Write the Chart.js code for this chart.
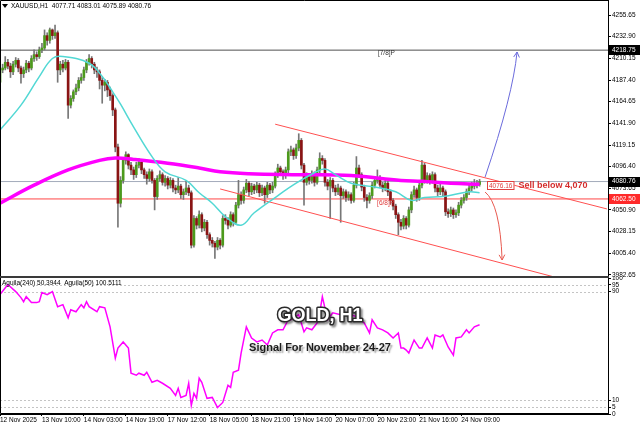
<!DOCTYPE html>
<html>
<head>
<meta charset="UTF-8">
<title>XAUUSD H1</title>
<script src="https://cdn.jsdelivr.net/npm/chart.js"></script>
<style>
  body { margin: 0; background: #fff; }
  #wrap { position: relative; width: 640px; height: 426px; overflow: hidden; background: #fff; }
  #priceChart { position: absolute; left: 0; top: 0; }
  #oscChart { position: absolute; left: 0; top: 277px; }
</style>
</head>
<body>
<div id="wrap">
  <canvas id="priceChart" width="640" height="290"></canvas>
  <canvas id="oscChart" width="640" height="149"></canvas>
</div>
<script>
// H1 candles, bar 0 = 12 Nov 17:00 ... bar 183 = 24 Nov 16:00
const opens = [
  4185,4198,4200,4206,4202,4196,4204,4208,4200,4194,
  4198,4205,4200,4210,4214,4212,4219,4221,4234,4229,
  4240,4234,4237,4198,4204,4200,4206,4161,4168,4175,
  4179,4187,4190,4198,4206,4210,4204,4198,4196,4187,
  4182,4185,4177,4171,4156,4117,4058,4082,4103,4109,
  4098,4093,4088,4098,4101,4093,4088,4084,4091,4082,
  4065,4084,4088,4080,4084,4077,4082,4074,4072,4076,
  4067,4070,4074,4069,4014,4042,4035,4046,4032,4038,
  4025,4019,4016,4012,4019,4014,4042,4040,4035,4046,
  4038,4056,4067,4061,4072,4079,4070,4076,4072,4077,
  4069,4074,4067,4077,4072,4076,4088,4095,4091,4087,
  4093,4112,4114,4108,4116,4124,4098,4080,4087,4082,
  4089,4080,4093,4105,4103,4080,4076,4082,4074,4070,
  4074,4066,4070,4064,4067,4061,4077,4095,4088,4075,
  4064,4061,4066,4077,4082,4085,4077,4074,4079,4070,
  4061,4055,4046,4038,4034,4042,4035,4051,4067,4072,
  4064,4077,4098,4082,4087,4082,4088,4074,4070,4074,
  4070,4049,4047,4051,4046,4048,4056,4061,4064,4070,
  4074,4076,4079,4077.71
];
const highs = [
  4201,4204,4212,4209,4205,4207,4211,4210,4202,4201,
  4208,4207,4213,4219,4217,4222,4226,4240,4237,4242,
  4241,4245,4239,4207,4208,4209,4208,4171,4177,4183,
  4190,4194,4201,4209,4214,4212,4206,4201,4198,4190,
  4188,4187,4180,4173,4158,4120,4086,4106,4112,4110,
  4101,4096,4101,4105,4103,4095,4091,4094,4093,4084,
  4087,4092,4090,4087,4086,4085,4084,4077,4085,4078,
  4073,4081,4077,4071,4045,4044,4050,4048,4041,4040,
  4027,4022,4018,4022,4021,4045,4046,4043,4049,4048,
  4059,4082,4070,4075,4083,4081,4079,4078,4080,4079,
  4077,4076,4080,4079,4080,4091,4099,4097,4093,4096,
  4115,4118,4116,4120,4131,4126,4100,4090,4089,4092,
  4091,4096,4111,4108,4105,4083,4085,4084,4077,4078,
  4076,4073,4072,4070,4069,4080,4107,4098,4090,4077,
  4067,4069,4080,4086,4093,4087,4080,4082,4081,4072,
  4063,4057,4048,4041,4045,4044,4054,4070,4076,4074,
  4080,4103,4100,4090,4089,4091,4090,4077,4078,4076,
  4072,4052,4054,4053,4051,4059,4064,4067,4073,4077,
  4080,4083,4082,4083.01
];
const lows = [
  4182,4195,4198,4199,4190,4193,4201,4196,4184,4190,
  4195,4196,4198,4207,4208,4210,4216,4219,4224,4226,
  4230,4231,4185,4193,4196,4198,4147,4158,4165,4172,
  4176,4184,4187,4195,4203,4200,4194,4190,4178,4163,
  4176,4170,4166,4150,4112,4033,4054,4079,4099,4094,
  4088,4083,4085,4095,4089,4084,4078,4081,4079,4051,
  4062,4081,4077,4076,4073,4074,4070,4068,4069,4063,
  4062,4067,4066,4011,4012,4031,4032,4028,4029,4021,
  4014,4012,4000,4009,4010,4012,4036,4031,4033,4034,
  4036,4053,4057,4058,4069,4066,4067,4068,4069,4065,
  4066,4058,4064,4068,4069,4074,4085,4087,4083,4084,
  4090,4108,4104,4105,4113,4094,4056,4077,4078,4079,
  4076,4078,4090,4099,4076,4072,4042,4070,4066,4067,
  4038,4063,4060,4061,4058,4059,4074,4085,4071,4060,
  4053,4058,4063,4074,4079,4074,4070,4071,4066,4057,
  4051,4042,4025,4030,4031,4031,4033,4048,4064,4060,
  4061,4074,4079,4079,4078,4079,4070,4066,4067,4066,
  4045,4043,4044,4042,4043,4045,4053,4058,4061,4067,
  4071,4073,4074,4075.89
];
const closes = [
  4198,4200,4206,4202,4196,4204,4208,4200,4194,4198,
  4205,4200,4210,4214,4212,4219,4221,4234,4229,4240,
  4234,4237,4198,4204,4200,4206,4161,4168,4175,4179,
  4187,4190,4198,4206,4210,4204,4198,4196,4187,4182,
  4185,4177,4171,4156,4117,4058,4082,4103,4109,4098,
  4093,4088,4098,4101,4093,4088,4084,4091,4082,4065,
  4084,4088,4080,4084,4077,4082,4074,4072,4076,4067,
  4070,4074,4069,4014,4042,4035,4046,4032,4038,4025,
  4019,4016,4012,4019,4014,4042,4040,4035,4046,4038,
  4056,4067,4061,4072,4079,4070,4076,4072,4077,4069,
  4074,4067,4077,4072,4076,4088,4095,4091,4087,4093,
  4112,4114,4108,4116,4124,4098,4080,4087,4082,4089,
  4080,4093,4105,4103,4080,4076,4082,4074,4070,4074,
  4066,4070,4064,4067,4061,4077,4095,4088,4075,4064,
  4061,4066,4077,4082,4085,4077,4074,4079,4070,4061,
  4055,4046,4038,4034,4042,4035,4051,4067,4072,4064,
  4077,4098,4082,4087,4082,4088,4074,4070,4074,4070,
  4049,4047,4051,4046,4048,4056,4061,4064,4070,4074,
  4076,4079,4077.71,4080.76
];

// moving averages, read at sample bars
const maFastIdx = [0,8,15,20,24,34,39,43,46,51,58,63,71,76,81,86,92,97,105,113,120,124,128,134,143,151,157,162,169,179,183];
const maFastVal = [4135,4161,4191,4210,4212,4205,4191,4175,4162,4138,4107,4091,4082,4069,4058,4044,4035,4048,4064,4079,4090,4094,4088,4079,4075,4070,4061,4064,4065,4070,4069];
const maSlowIdx = [0,13,26,38,44,51,64,76,84,95,115,134,153,161,172,183];
const maSlowVal = [4058,4077,4093,4103,4105.5,4104,4100,4095,4091,4089,4088,4087,4082,4081,4079,4078];

// Aguila oscillator
const aguIdx = [0,3,6,8,9,10,12,14,15,16,18,20,22,24,26,27,29,31,32,33,34,37,38,40,42,44,45,47,49,50,
  52,53,55,56,58,60,62,65,67,68,69,71,72,73,74,75,76,77,79,81,83,85,87,88,89,91,92,94,96,98,
  100,102,104,106,108,110,111,114,116,117,119,121,122,123,125,127,130,132,134,136,139,141,142,144,146,148,150,152,153,154,
  155,156,158,160,161,163,165,166,168,169,171,173,174,176,178,179,181,183];
const aguVal = [87.8,95.2,90,85.6,82.6,86.3,81.9,81.9,82.6,89.3,87.8,90,78.9,80.4,70.7,76.7,75.2,80.4,78.1,82.6,
  78.9,75.2,78.9,78.1,64.1,41.1,48.5,53.0,48.5,30.0,28.5,30.0,28.5,30.7,23.3,24.8,22.6,18.9,13.7,18.9,
  12.2,13.7,22.6,6.3,15.2,11.5,26.3,23.3,11.5,12.2,4.8,8.5,21.1,19.6,30.7,32.2,44.8,64.1,55.9,53.0,
  54.4,50.7,59.6,61.9,61.9,69.3,69.3,73.0,60.4,63.3,61.9,67.0,74.4,86.3,69.3,74.4,73.0,74.4,73.0,71.5,
  67.0,59.6,69.3,63.3,61.9,59.6,55.9,59.6,48.5,48.5,47.0,44.8,54.4,48.5,48.5,55.9,48.5,58.1,56.7,58.1,
  49.3,43.3,55.9,56.7,61.9,59.6,64.1,65.6];

// axes
const priceTicks = [4255.65,4232.90,4210.15,4187.40,4164.65,4141.90,4119.15,4096.40,4073.65,4050.90,4028.15,4005.40,3982.65];
const oscTicks = [100,95,90,10,5,0];
const oscLevels = [95,90,10,5];
const timeIdx = [0,16,32,48,64,80,96,112,128,144,160,176];
const timeLabels = ['12 Nov 2025','13 Nov 10:00','14 Nov 03:00','14 Nov 19:00','17 Nov 12:00','18 Nov 05:00',
  '18 Nov 21:00','19 Nov 14:00','20 Nov 07:00','20 Nov 23:00','21 Nov 16:00','24 Nov 09:00'];

// drawn objects (bar index, price)
const levels = [4218.75, 4080.76, 4062.50];
const upperChannel = [[105, 4141], [231.6, 4052]];
const lowerChannel = [[84, 4073], [231.6, 3966]];
const blueArrow = [[185.1, 4085.5], [195.7, 4171.6], [197.3, 4216.8]];
const redArrow = [[185.1, 4069.8], [190.8, 4057.2], [191.6, 3998.4]];

const FONT = '"Liberation Sans", Arial, sans-serif';
Chart.defaults.font.family = FONT;
Chart.defaults.font.size = 6.5;
Chart.defaults.color = '#000';

const last = closes.length - 1;
const fmt = v => v.toFixed(2);
const pairs = (xs, ys) => xs.map((x, i) => ({ x: x, y: ys[i] }));
const xRange = { type: 'linear', min: 0, max: 232, offset: false };

const wickData = highs.map((h, i) => ({ x: i, y: [lows[i], h] }));
const bodyData = opens.map((o, i) => ({ x: i, y: [o, closes[i]] }));
const bodyColors = opens.map((o, i) => closes[i] >= o ? '#4c9a1c' : '#8a1414');

const levelColors = ['#505050', '#a3abbb', '#ff4646'];
const levelSets = levels.map((v, k) => ({
  type: 'line', data: [{ x: 0, y: v }, { x: 232, y: v }],
  borderColor: levelColors[k], borderWidth: 1, pointRadius: 0, order: 6
}));

const priceDecor = {
  id: 'priceDecor',
  afterDatasetsDraw(chart) {
    const { ctx, chartArea: a } = chart;
    const xs = chart.scales.x, ys = chart.scales.y;
    const pt = ([i, p]) => [xs.getPixelForValue(i), ys.getPixelForValue(p)];
    ctx.save();
    ctx.beginPath();
    ctx.rect(a.left, a.top, a.right - a.left, a.bottom - a.top);
    ctx.clip();
    [[blueArrow, '#6b6bdc'], [redArrow, '#e85a50']].forEach(([ar, col]) => {
      const [p0, c, p2] = ar.map(pt);
      ctx.strokeStyle = col;
      ctx.lineWidth = 1;
      ctx.beginPath();
      ctx.moveTo(p0[0], p0[1]);
      ctx.quadraticCurveTo(c[0], c[1], p2[0], p2[1]);
      ctx.stroke();
      const ang = Math.atan2(p2[1] - c[1], p2[0] - c[0]);
      ctx.beginPath();
      ctx.moveTo(p2[0] - 6 * Math.cos(ang - 0.5), p2[1] - 6 * Math.sin(ang - 0.5));
      ctx.lineTo(p2[0], p2[1]);
      ctx.lineTo(p2[0] - 6 * Math.cos(ang + 0.5), p2[1] - 6 * Math.sin(ang + 0.5));
      ctx.stroke();
    });
    ctx.textBaseline = 'middle';
    ctx.textAlign = 'left';
    ctx.font = '6.5px ' + FONT;
    let [tx, ty] = pt([144.2, 4215.5]);
    ctx.fillStyle = '#333';
    ctx.fillText('[7/8]P', tx, ty);
    [tx, ty] = pt([143.9, 4058.2]);
    ctx.fillStyle = '#e03a3a';
    ctx.fillText('[6/8]P', tx, ty);

    // sell label
    const [bx, by] = pt([185.8, 4076.16]);
    const t = '4076.16', tw = ctx.measureText(t).width;
    ctx.fillStyle = '#fff';
    ctx.fillRect(bx, by - 4.5, tw + 4, 9);
    ctx.strokeStyle = '#e04040';
    ctx.strokeRect(Math.round(bx) + 0.5, Math.round(by - 4.5) + 0.5, tw + 3, 8);
    ctx.fillStyle = '#e04040';
    ctx.fillText(t, bx + 2, by + 0.5);
    ctx.font = 'bold 9px ' + FONT;
    ctx.fillStyle = '#d42c2c';
    ctx.fillText('Sell below 4,070', bx + tw + 8, by);
    ctx.restore();

    // frame
    ctx.save();
    ctx.strokeStyle = '#000';
    ctx.lineWidth = 1;
    ctx.beginPath();
    ctx.moveTo(0.5, a.bottom);
    ctx.lineTo(0.5, 0.5);
    ctx.lineTo(a.right, 0.5);
    ctx.stroke();
    ctx.fillStyle = '#3a3a3a';
    ctx.fillRect(0, a.bottom, a.right + 1, 2);

    // price markers on the axis
    ctx.font = '6.5px ' + FONT;
    ctx.textBaseline = 'middle';
    [[levels[0], '#000'], [levels[1], '#000'], [levels[2], '#ff2a2a']].forEach(([v, bg]) => {
      const y = ys.getPixelForValue(v);
      ctx.fillStyle = bg;
      ctx.fillRect(a.right + 1, Math.round(y) - 5, 31, 10);
      ctx.fillStyle = '#fff';
      ctx.fillText(fmt(v), a.right + 4, y);
    });

    // title
    ctx.fillStyle = '#000';
    ctx.beginPath();
    ctx.moveTo(2, 4); ctx.lineTo(8, 4); ctx.lineTo(5, 8); ctx.closePath();
    ctx.fill();
    ctx.fillText('XAUUSD,H1  ' + [opens[last], highs[last], lows[last], closes[last]].map(fmt).join(' '), 11, 6);
    ctx.restore();
  }
};

new Chart(document.getElementById('priceChart'), {
  type: 'bar',
  data: {
    datasets: [
      { type: 'line', data: pairs(maFastIdx, maFastVal), borderColor: '#52d8d4', borderWidth: 1.5, pointRadius: 0, tension: 0.4, order: 1 },
      { type: 'line', data: pairs(maSlowIdx, maSlowVal), borderColor: '#ff00ff', borderWidth: 3.5, pointRadius: 0, tension: 0.4, order: 2 },
      { type: 'line', data: upperChannel.map(([x, y]) => ({ x, y })), borderColor: '#ff5050', borderWidth: 1, pointRadius: 0, order: 3 },
      { type: 'line', data: lowerChannel.map(([x, y]) => ({ x, y })), borderColor: '#ff5050', borderWidth: 1, pointRadius: 0, order: 3 },
      { data: bodyData, backgroundColor: bodyColors, barThickness: 2, grouped: false, order: 4 },
      { data: wickData, backgroundColor: '#777', barThickness: 1, grouped: false, order: 5 },
      ...levelSets
    ]
  },
  options: {
    responsive: false,
    animation: false,
    devicePixelRatio: 1,
    layout: { padding: { top: 0, left: 0, right: 0, bottom: 14 } },
    plugins: { legend: { display: false }, tooltip: { enabled: false } },
    scales: {
      x: Object.assign({ display: false }, xRange),
      y: {
        position: 'right',
        min: 3981.6, max: 4271.4,
        afterBuildTicks: s => { s.ticks = priceTicks.map(v => ({ value: v })); },
        afterFit: s => { s.width = 32; s.paddingTop = 0; s.paddingBottom = 0; },
        ticks: { autoSkip: false, padding: 1, callback: v => fmt(v) },
        grid: { drawOnChartArea: false, tickLength: 3, tickColor: '#000' },
        border: { display: true, color: '#000' }
      }
    }
  },
  plugins: [priceDecor]
});

const oscDecor = {
  id: 'oscDecor',
  beforeDatasetsDraw(chart) {
    const { ctx, chartArea: a } = chart;
    const ys = chart.scales.y;
    ctx.save();
    ctx.strokeStyle = '#c4c4c4';
    ctx.setLineDash([2, 2]);
    ctx.lineWidth = 1;
    oscLevels.forEach(v => {
      const y = Math.round(ys.getPixelForValue(v)) + 0.5;
      ctx.beginPath(); ctx.moveTo(a.left, y); ctx.lineTo(a.right, y); ctx.stroke();
    });
    ctx.restore();
  },
  afterDatasetsDraw(chart) {
    const { ctx, chartArea: a } = chart;
    const xs = chart.scales.x, ys = chart.scales.y;
    ctx.save();
    ctx.strokeStyle = '#000';
    ctx.lineWidth = 1;
    ctx.beginPath();
    ctx.moveTo(0.5, a.top);
    ctx.lineTo(0.5, a.bottom - 0.5);
    ctx.lineTo(a.right, a.bottom - 0.5);
    ctx.stroke();

    ctx.font = '6.5px ' + FONT;
    ctx.textBaseline = 'middle';
    ctx.fillStyle = '#000';
    ctx.fillText('Aguila(240) 50.3944  Aguila(50) 100.5111', 2, a.top + 5);

    const cx = xs.getPixelForValue(122.1);
    ctx.textAlign = 'center';
    ctx.font = 'bold 18px ' + FONT;
    let cy = ys.getPixelForValue(72.2);
    ctx.lineJoin = 'round';
    ctx.shadowColor = 'rgba(0,0,0,0.45)';
    ctx.shadowOffsetX = 2; ctx.shadowOffsetY = 2; ctx.shadowBlur = 2;
    ctx.lineWidth = 3;
    ctx.strokeStyle = '#2a2a2a';
    ctx.strokeText('GOLD, H1', cx, cy);
    ctx.shadowColor = 'rgba(0,0,0,0)';
    ctx.fillStyle = '#fff';
    ctx.fillText('GOLD, H1', cx, cy);

    cy = ys.getPixelForValue(48.5);
    ctx.font = 'bold 11px ' + FONT;
    ctx.shadowColor = 'rgba(0,0,0,0.35)';
    ctx.shadowOffsetX = 2; ctx.shadowOffsetY = 2; ctx.shadowBlur = 1.5;
    ctx.fillStyle = '#1c1c1c';
    ctx.fillText('Signal For November 24-27', cx, cy);
    ctx.restore();
  }
};

new Chart(document.getElementById('oscChart'), {
  type: 'line',
  data: {
    datasets: [
      { data: pairs(aguIdx, aguVal), borderColor: '#ff00ff', borderWidth: 1.5, pointRadius: 0, tension: 0 }
    ]
  },
  options: {
    responsive: false,
    animation: false,
    devicePixelRatio: 1,
    layout: { padding: { top: 1, left: 0, right: 0, bottom: 0 } },
    plugins: { legend: { display: false }, tooltip: { enabled: false } },
    scales: {
      x: Object.assign({
        afterBuildTicks: s => { s.ticks = timeIdx.map(v => ({ value: v })); },
        afterFit: s => { s.height = 12; s.paddingLeft = 0; s.paddingRight = 0; },
        ticks: { autoSkip: false, maxRotation: 0, align: 'start', padding: 0, callback: (v, i) => timeLabels[i] },
        grid: { drawOnChartArea: false, tickLength: 2, tickColor: '#000' },
        border: { display: true, color: '#000' }
      }, xRange),
      y: {
        position: 'right',
        min: 0, max: 100,
        afterBuildTicks: s => { s.ticks = oscTicks.map(v => ({ value: v })); },
        afterFit: s => { s.width = 32; s.paddingTop = 0; s.paddingBottom = 0; },
        ticks: { autoSkip: false, padding: 1 },
        grid: { drawOnChartArea: false, tickLength: 3, tickColor: '#000' },
        border: { display: true, color: '#000' }
      }
    }
  },
  plugins: [oscDecor]
});
</script>
</body>
</html>
